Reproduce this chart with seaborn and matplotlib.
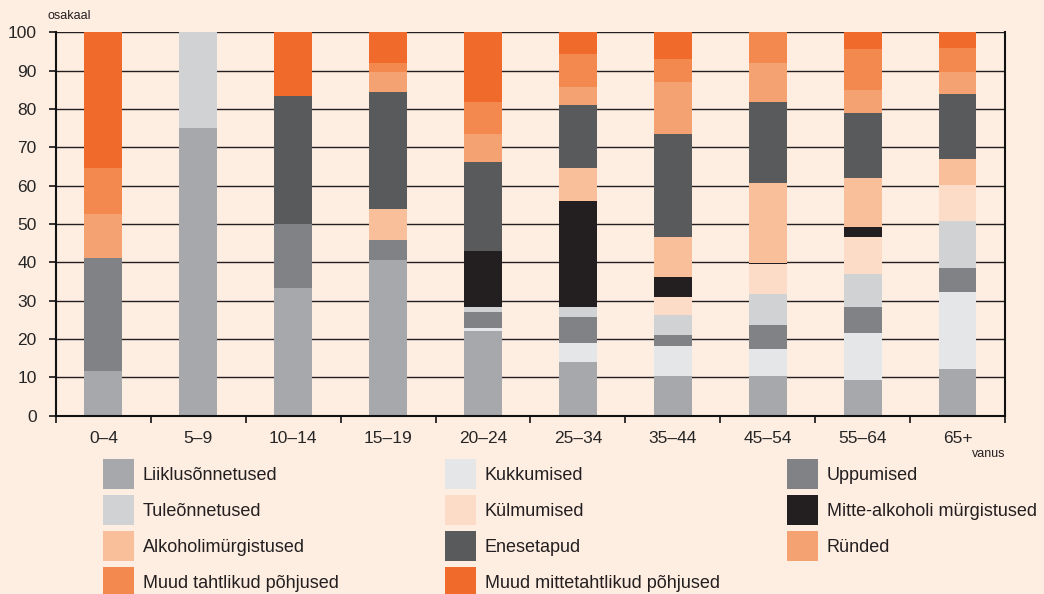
import numpy as np
import pandas as pd
import matplotlib
matplotlib.use("Agg")
import matplotlib.pyplot as plt
from matplotlib.patches import Rectangle
import seaborn as sns

# Age groups (x axis)
ages = ["0–4", "5–9", "10–14", "15–19", "20–24", "25–34", "35–44", "45–54", "55–64", "65+"]

# Share of deaths by cause, bottom of stack first
liiklus = [11.7, 75.0, 33.3, 40.6, 22.1, 14.0, 10.4, 10.4, 9.3, 12.2]
kukkumised = [0, 0, 0, 0, 0.7, 5.0, 7.8, 7.0, 12.3, 20.1]
uppumised = [29.5, 0, 16.7, 5.2, 4.2, 6.7, 2.8, 6.3, 6.7, 6.2]
tuleonnetused = [0, 25.0, 0, 0, 1.3, 2.6, 5.2, 8.0, 8.6, 12.3]
kulmumised = [0, 0, 0, 0, 0, 0, 4.7, 7.9, 9.7, 9.4]
mitte_alkoholi = [0, 0, 0, 0, 14.7, 27.7, 5.3, 0.3, 2.6, 0]
alkoholi = [0, 0, 0, 8.1, 0, 8.6, 10.4, 20.8, 12.8, 6.8]
enesetapud = [0, 0, 33.3, 30.5, 23.2, 16.4, 26.9, 21.1, 16.9, 16.9]
runded = [11.5, 0, 0, 5.3, 7.3, 4.7, 13.5, 10.2, 6.0, 5.8]
muud_tahtlikud = [12.0, 0, 0, 2.3, 8.3, 8.6, 6.0, 8.0, 10.7, 6.2]
muud_mittetahtlikud = [35.3, 0, 16.7, 8.0, 18.2, 5.7, 7.0, 0, 4.4, 4.1]

causes = [
    ("Liiklusõnnetused", liiklus, "#a7a8ab"),
    ("Kukkumised", kukkumised, "#e5e6e7"),
    ("Uppumised", uppumised, "#818285"),
    ("Tuleõnnetused", tuleonnetused, "#d1d2d3"),
    ("Külmumised", kulmumised, "#fcdcc7"),
    ("Mitte-alkoholi mürgistused", mitte_alkoholi, "#231f20"),
    ("Alkoholimürgistused", alkoholi, "#f9bf9a"),
    ("Enesetapud", enesetapud, "#595a5c"),
    ("Ründed", runded, "#f5a273"),
    ("Muud tahtlikud põhjused", muud_tahtlikud, "#f3894f"),
    ("Muud mittetahtlikud põhjused", muud_mittetahtlikud, "#ef6a2b"),
]

bg = "#feede1"
sns.set_style("ticks")
plt.rcParams["font.family"] = ["Liberation Sans", "DejaVu Sans"]

W, H = 1044, 594
fig = plt.figure(figsize=(W / 100, H / 100), dpi=100, facecolor=bg)
ax = fig.add_axes([0.0536, 0.300, 0.909, 0.6456])
ax.set_facecolor(bg)

# cumulative tops, draw from the top layer downward so lower layers cover
df = pd.DataFrame({name: vals for name, vals, _ in causes}, index=ages)
cum = df.cumsum(axis=1)
for name, _, color in reversed(causes):
    sns.barplot(x=ages, y=cum[name].values, color=color, saturation=1,
                width=0.4, linewidth=0, edgecolor="none", order=ages, ax=ax)

ax.set_xlim(-0.5, 9.5)
ax.set_ylim(0, 100)
ax.set_yticks(np.arange(0, 101, 10))
ax.set_xlabel("")
ax.set_ylabel("")
ax.set_axisbelow(True)
ax.grid(axis="y", color="#231f20", linewidth=1.0)
ax.grid(axis="x", visible=False)

for s in ["left", "right", "bottom"]:
    ax.spines[s].set_color("#111111")
    ax.spines[s].set_linewidth(1.5)
ax.spines["top"].set_visible(False)

ax.tick_params(axis="y", direction="out", length=5, width=1.2, color="#111111",
               labelsize=12.5, pad=9)
ax.tick_params(axis="x", which="major", length=0, labelsize=12.5, pad=11)
ax.set_xticks(np.arange(-0.5, 10, 1), minor=True)
ax.tick_params(axis="x", which="minor", direction="out", length=5, width=1.2,
               color="#111111")

fig.text(48 / W, 1 - 16 / H, "osakaal", fontsize=9, va="center", ha="left",
         color="#231f20")
fig.text(1005 / W, 1 - 454 / H, "vanus", fontsize=9, va="center", ha="right",
         color="#231f20")

# legend: 3 columns x 4 rows, filled row by row
col_x = [103, 445, 787]
row_top = 459
row_step = 36
box = 30
for k, (name, _, color) in enumerate(causes):
    r, c = divmod(k, 3)
    x0 = col_x[c]
    y0 = row_top + r * row_step
    fig.add_artist(Rectangle((x0 / W, 1 - (y0 + box) / H), (box + 1) / W, box / H,
                             transform=fig.transFigure, facecolor=color,
                             edgecolor="none"))
    fig.text((x0 + box + 10) / W, 1 - (y0 + box / 2) / H, name, fontsize=13,
             va="center_baseline", ha="left", color="#231f20")

fig.savefig("out.png", dpi=100, facecolor=bg)
